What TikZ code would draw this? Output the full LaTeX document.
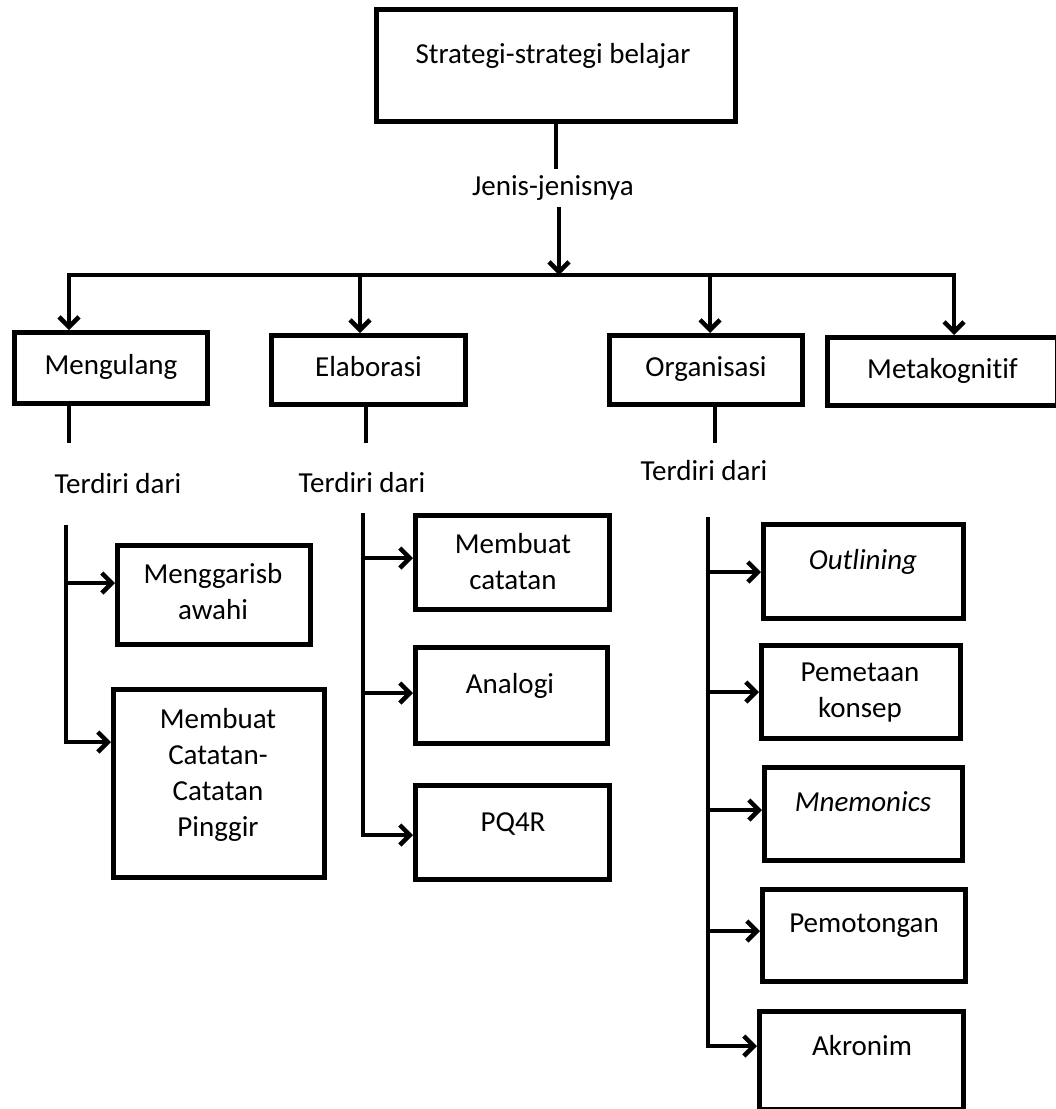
\documentclass[tikz,border=0pt]{standalone}
\usepackage{fontspec}
\setmainfont{Carlito}[Ligatures=NoCommon]
\usepackage{tikz}
\usetikzlibrary{arrows.meta, positioning}

\begin{document}
\begin{tikzpicture}[
  x=1pt, y=-1pt,
  kotak/.style={draw,line width=5pt,inner sep=0pt},
  teks/.style={font=\fontsize{29}{36}\selectfont,inner sep=0pt,align=center},
  jenisbox/.style={kotak,teks,text height=20pt,text depth=7pt},
  garis/.style={line width=4.5pt},
  panah/.style={line width=4.5pt,-{Straight Barb[length=10pt,width=20pt]}},
]
\useasboundingbox (0,0) rectangle (1056,1109);

% puncak
\node[kotak,minimum width=359pt,minimum height=112pt] (strat) at (556,65.5) {};
\node[teks,anchor=base] (tstrat) at (553,63) {Strategi-strategi belajar};
\node[teks,inner sep=6pt] (jenis) at (553,188) {Jenis-jenisnya};
\coordinate (bus) at (559,275);
\coordinate (b1) at (69,275);
\coordinate (b2) at (360,275);
\coordinate (b3) at (710,275);
\coordinate (b4) at (954,275);
\draw[garis] (strat.south) -- (strat.south |- jenis.north);
\draw[panah] (jenis.south -| bus) -- (bus);

% jenis-jenis
\node[jenisbox,minimum width=193pt,minimum height=71pt] (ulang) at (111,368) {Mengulang};
\node[jenisbox,minimum width=194pt,minimum height=69pt] (elab) at (368.5,370) {Elaborasi};
\node[jenisbox,minimum width=193pt,minimum height=69pt] (org) at (706,370) {Organisasi};
\node[jenisbox,minimum width=230pt,minimum height=68pt] (meta) at (942.5,371.5) {Metakogni\kern0pt tif};
\draw[panah] (b2) -- (b1) -- (b1 |- ulang.north);
\draw[panah] (b2) -- (b4) -- (b4 |- meta.north);
\draw[panah] (b2) -- (b2 |- elab.north);
\draw[panah] (b3) -- (b3 |- org.north);

\coordinate (u1) at (69,443);
\coordinate (u2) at (366,443);
\coordinate (u3) at (715,443);
\draw[garis] (u1 |- ulang.south) -- (u1);
\draw[garis] (u2 |- elab.south) -- (u2);
\draw[garis] (u3 |- org.south) -- (u3);
\node[teks,anchor=base] (td1) at (118,493) {Terdiri dari};
\node[teks,anchor=base] (td2) at (362,492) {Terdiri dari};
\node[teks,anchor=base] (td3) at (704,480) {Terdiri dari};

% mengulang
\coordinate (k1) at (66,525);
\node[kotak,minimum width=193pt,minimum height=99pt] (bawah) at (214,595) {};
\node[teks,anchor=north] (tbawah) at (213,563) {Menggarisb\\awahi};
\node[kotak,minimum width=211pt,minimum height=188pt] (pinggir) at (219,783.5) {};
\node[teks,anchor=north] (tpinggir) at (218,708) {Membuat\\Catatan-\\Catatan\\Pinggir};
\draw[panah] (k1) |- (pinggir.west |- 0,742);
\draw[panah] (k1 |- 0,583) -- (bawah.west |- 0,583);

% elaborasi
\coordinate (k2) at (363,513);
\node[kotak,minimum width=194pt,minimum height=94pt] (mcatat) at (512.5,562.5) {};
\node[teks,anchor=north] (tmcatat) at (513,533) {Membuat\\catatan};
\node[kotak,minimum width=192pt,minimum height=96pt] (analogi) at (511.5,695.5) {};
\node[teks,anchor=base] (tanalogi) at (510,693) {Analogi};
\node[kotak,minimum width=194pt,minimum height=94pt] (pq) at (512.5,832.5) {};
\node[teks,anchor=base] (tpq) at (513,831) {PQ4R};
\draw[panah] (k2) |- (pq.west |- 0,835);
\draw[panah] (k2 |- 0,558) -- (mcatat.west |- 0,558);
\draw[panah] (k2 |- 0,693) -- (analogi.west |- 0,693);

% organisasi
\coordinate (k3) at (708,517);
\node[kotak,minimum width=200pt,minimum height=94pt] (outl) at (863.5,571.5) {};
\node[teks,anchor=base] (toutl) at (863,569) {\itshape Outlining};
\node[kotak,minimum width=199pt,minimum height=93pt] (peta) at (861,692) {};
\node[teks,anchor=north] (tpeta) at (860,663) {Pemetaan\\konsep};
\node[kotak,minimum width=198pt,minimum height=93pt] (mnem) at (863.5,814) {};
\node[teks,anchor=base] (tmnem) at (863,811) {\itshape Mnemonics};
\node[kotak,minimum width=203pt,minimum height=92pt] (potong) at (864,935.5) {};
\node[teks,anchor=base] (tpotong) at (864,932) {Pemotongan};
\node[kotak,minimum width=204pt,minimum height=98pt] (akron) at (861.5,1060) {};
\node[teks,anchor=base] (takron) at (862,1055) {Akronim};
\draw[panah] (k3) |- (akron.west |- 0,1046);
\draw[panah] (k3 |- 0,572) -- (outl.west |- 0,572);
\draw[panah] (k3 |- 0,692) -- (peta.west |- 0,692);
\draw[panah] (k3 |- 0,810) -- (mnem.west |- 0,810);
\draw[panah] (k3 |- 0,931) -- (potong.west |- 0,931);
\end{tikzpicture}
\end{document}
